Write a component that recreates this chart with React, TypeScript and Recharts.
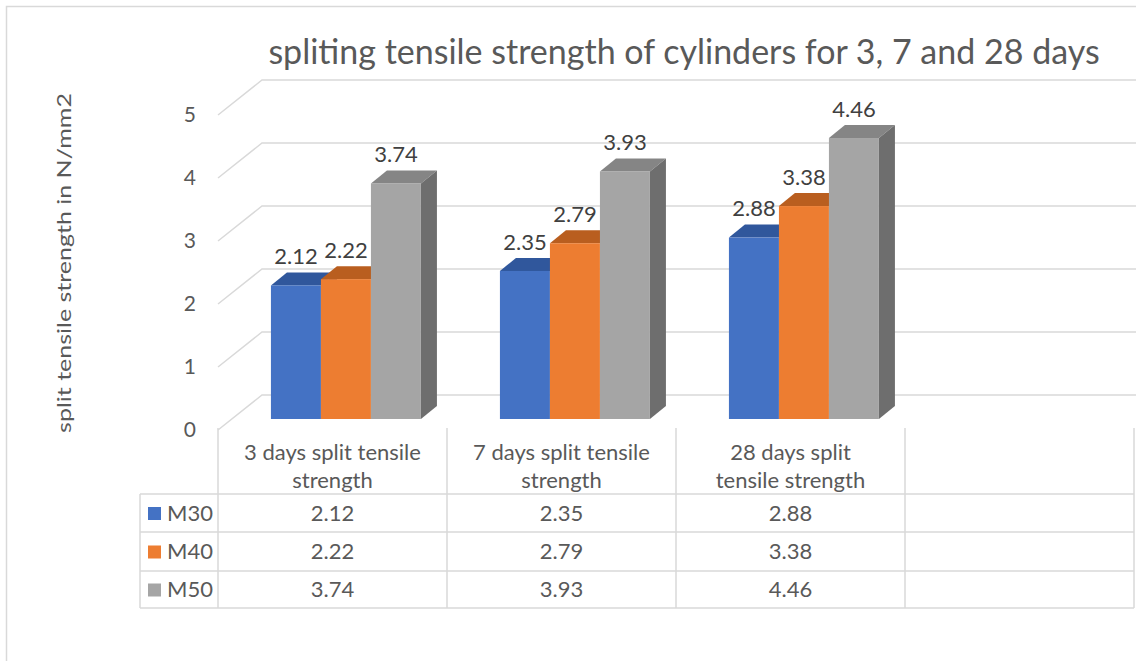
import { Bar, BarChart, CartesianGrid, LabelList, XAxis, YAxis } from "recharts";

const CATEGORIES = [
  "3 days split tensile strength",
  "7 days split tensile strength",
  "28 days split tensile strength",
  "",
];
const M30 = [2.12, 2.35, 2.88];
const M40 = [2.22, 2.79, 3.38];
const M50 = [3.74, 3.93, 4.46];
const Y_TICKS = [0, 1, 2, 3, 4, 5];
const TITLE = "spliting tensile strength of cylinders for 3, 7 and 28 days";
const Y_TITLE = "split tensile strength in N/mm2";

const SERIES = [
  { key: "M30", values: M30, front: "#4472c4", top: "#30579c", side: "#2f5597" },
  { key: "M40", values: M40, front: "#ed7d31", top: "#b95e1f", side: "#ae5a21" },
  { key: "M50", values: M50, front: "#a5a5a5", top: "#858585", side: "#6e6e6e" },
];

const data = CATEGORIES.map((cat, i) => {
  const row: Record<string, string | number | null> = { cat };
  SERIES.forEach((s) => (row[s.key] = s.values[i] ?? null));
  return row;
});

const FONT = "Lato, 'Noto Sans', sans-serif";
const TEXT = "#595959";
const GRID = "#d9d9d9";

// back wall plot box
const W = 1200;
const H = 661;
const PLOT_LEFT = 262;
const PLOT_RIGHT = 1178;
const PLOT_TOP = 80;
const PLOT_BOTTOM = 395;
const BAND = (PLOT_RIGHT - PLOT_LEFT) / CATEGORIES.length;

// perspective offsets
const FLOOR_DX = 44;
const FLOOR_DY = 35;
const BAR_DX = 30;
const BAR_DY = 24;
const BOX_DX = 16;
const BOX_DY = 13;

// data table rows
const TABLE_TOP = 428;
const ROW_LINES = [494, 532, 571, 608];
const HEADER_LEFT = 140;

function wrap(label: string, max = 20) {
  const lines: string[] = [];
  let cur = "";
  label.split(" ").forEach((w) => {
    if (!cur) cur = w;
    else if ((cur + " " + w).length <= max) cur += " " + w;
    else {
      lines.push(cur);
      cur = w;
    }
  });
  if (cur) lines.push(cur);
  return lines;
}

function T(props: {
  x: number;
  y: number;
  size: number;
  anchor?: "start" | "middle" | "end";
  fill?: string;
  rotate?: boolean;
  sx?: number;
  children: any;
}) {
  const { x, y, size, anchor = "middle", fill = TEXT, rotate, sx = 1, children } = props;
  return (
    <text
      transform={`translate(${x},${y}) scale(${sx},1)${rotate ? " rotate(-90)" : ""}`}
      textAnchor={anchor}
      dy="0.35em"
      fill={fill}
      fontSize={size}
      fontFamily={FONT}
    >
      {children}
    </text>
  );
}

function GridLine(props: any) {
  const { x1, x2, y1 } = props;
  return (
    <path
      key={props.key}
      d={`M${x1 - FLOOR_DX},${y1 + FLOOR_DY}L${x1},${y1}L${x2},${y1}`}
      stroke={GRID}
      strokeWidth={1.5}
      fill="none"
    />
  );
}

function makeBox(top: string, side: string) {
  return (props: any) => {
    const { x, y, width, height, fill } = props;
    if (height == null || !(height > 0)) return <g />;
    const fx = x - BAR_DX;
    const fy = y + BAR_DY;
    const topPts = `${fx},${fy} ${fx + BOX_DX},${fy - BOX_DY} ${fx + width + BOX_DX},${fy - BOX_DY} ${fx + width},${fy}`;
    const sidePts = `${fx + width},${fy} ${fx + width + BOX_DX},${fy - BOX_DY} ${fx + width + BOX_DX},${fy + height - BOX_DY} ${fx + width},${fy + height}`;
    return (
      <g>
        <polygon points={topPts} fill={top} />
        <polygon points={sidePts} fill={side} />
        <rect x={fx} y={fy} width={width} height={height} fill={fill} />
      </g>
    );
  };
}

function ValueLabel(props: any) {
  const { x, y, width, value } = props;
  if (value == null) return null;
  return (
    <T x={x - BAR_DX + width / 2} y={y + BAR_DY - BOX_DY - 16} size={22} fill="#404040">
      {value}
    </T>
  );
}

function YTick(props: any) {
  const { y, payload } = props;
  return (
    <T x={PLOT_LEFT - FLOOR_DX - 22} y={y + FLOOR_DY} size={21} anchor="end">
      {payload.value}
    </T>
  );
}

function TableColumn(props: any) {
  const { x, payload, index } = props;
  const cx = x - FLOOR_DX;
  const left = cx - BAND / 2;
  const right = cx + BAND / 2;
  const lines = wrap(String(payload.value ?? ""));
  const line = { stroke: GRID, strokeWidth: 1.5 };
  return (
    <g>
      <line x1={left} x2={left} y1={TABLE_TOP} y2={ROW_LINES[3]} {...line} />
      {index === CATEGORIES.length - 1 && (
        <line x1={right} x2={right} y1={TABLE_TOP} y2={ROW_LINES[3]} {...line} />
      )}
      {ROW_LINES.map((ry) => (
        <line key={ry} x1={left} x2={right} y1={ry} y2={ry} {...line} />
      ))}
      {lines.map((l, i) => (
        <T key={l} x={cx} y={452 + i * 28} size={22}>
          {l}
        </T>
      ))}
      {SERIES.map((s, r) =>
        s.values[index] == null ? null : (
          <T key={s.key} x={cx} y={(ROW_LINES[r] + ROW_LINES[r + 1]) / 2} size={22}>
            {s.values[index]}
          </T>
        )
      )}
      {index === 0 && (
        <g>
          <line x1={HEADER_LEFT} x2={HEADER_LEFT} y1={ROW_LINES[0]} y2={ROW_LINES[3]} {...line} />
          {ROW_LINES.map((ry) => (
            <line key={ry} x1={HEADER_LEFT} x2={left} y1={ry} y2={ry} {...line} />
          ))}
          {SERIES.map((s, r) => {
            const my = (ROW_LINES[r] + ROW_LINES[r + 1]) / 2;
            return (
              <g key={s.key}>
                <rect x={148} y={my - 6} width={13} height={13} fill={s.front} />
                <T x={167} y={my} size={22} anchor="start">
                  {s.key}
                </T>
              </g>
            );
          })}
        </g>
      )}
    </g>
  );
}

export default function App() {
  return (
    <div
      style={{
        position: "fixed",
        left: 0,
        top: 0,
        width: 1136,
        height: 661,
        overflow: "hidden",
        background: "#fff",
      }}
    >
      <svg width={1136} height={661} style={{ position: "absolute", left: 0, top: 0 }}>
        <rect x={6.5} y={6.5} width={1300} height={800} fill="none" stroke={GRID} strokeWidth={1.5} />
        <T x={684} y={52} size={34}>
          {TITLE}
        </T>
      </svg>
      <div style={{ position: "absolute", left: 0, top: 0 }}>
        <BarChart
          width={W}
          height={H}
          data={data}
          margin={{ top: PLOT_TOP, right: W - PLOT_RIGHT, bottom: H - PLOT_BOTTOM - 30, left: PLOT_LEFT - 60 }}
          barCategoryGap="17%"
          barGap={0}
        >
          <CartesianGrid vertical={false} horizontal={GridLine} />
          <XAxis
            dataKey="cat"
            height={30}
            interval={0}
            axisLine={false}
            tickLine={false}
            tick={TableColumn}
          />
          <YAxis
            width={60}
            domain={[0, 5]}
            ticks={Y_TICKS}
            axisLine={false}
            tickLine={false}
            tick={YTick}
            label={{
              content: () => (
                <T x={64} y={263} size={25} sx={0.8} rotate>
                  {Y_TITLE}
                </T>
              ),
            }}
          />
          {SERIES.map((s) => (
            <Bar
              key={s.key}
              dataKey={s.key}
              fill={s.front}
              isAnimationActive={false}
              shape={makeBox(s.top, s.side)}
            >
              <LabelList dataKey={s.key} content={ValueLabel} />
            </Bar>
          ))}
        </BarChart>
      </div>
    </div>
  );
}
